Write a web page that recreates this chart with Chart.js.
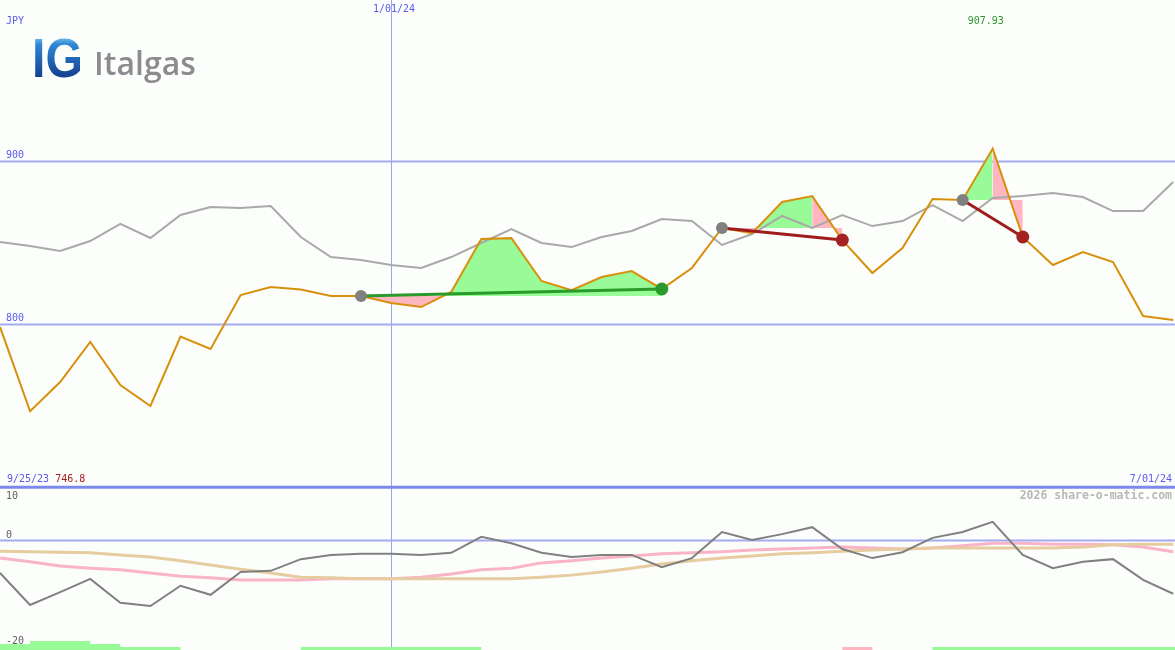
<!DOCTYPE html>
<html><head><meta charset="utf-8">
<script src="https://cdn.jsdelivr.net/npm/chart.js@4.4.1/dist/chart.umd.min.js"></script>
<style>html,body{margin:0;padding:0;background:#fcfefc;overflow:hidden}canvas{display:block}</style>
</head><body>
<canvas id="c" width="1175" height="650"></canvas>
<script>
// ---- data (weekly, 10/02/23 .. 7/01/24) ----
const weekLabels = (() => { const out = []; const d = new Date(2023, 9, 2);
  for (let i = 0; i < 40; i++) { const t = new Date(d.getTime() + i * 7 * 86400000);
    out.push((t.getMonth() + 1) + '/' + String(t.getDate()).padStart(2, '0') + '/' + String(t.getFullYear()).slice(2)); }
  return out; })();
const price = [798.5, 746.8, 764.7, 789.3, 762.9, 750.0, 792.6, 785.0, 818.1, 823.0,
  821.5, 817.5, 817.5, 813.2, 810.7, 820.0, 852.5, 853.0, 826.7, 821.0,
  829.1, 832.8, 821.8, 834.7, 859.2, 856.1, 875.2, 878.8, 851.8, 831.6,
  846.9, 877.0, 876.4, 907.93, 853.7, 836.5, 844.5, 838.3, 805.2, 802.8];
const relative = [850.6, 848.2, 845.1, 851.2, 861.7, 853.1, 867.2, 872.1, 871.5, 872.7,
  853.7, 841.4, 839.6, 836.5, 834.7, 841.4, 850.0, 858.6, 850.0, 847.5,
  853.7, 857.4, 864.7, 863.5, 848.8, 855.5, 866.6, 859.2, 867.2, 860.4,
  863.5, 873.3, 863.5, 877.6, 878.8, 880.7, 878.2, 869.6, 869.6, 887.4];
const momentum = [-6.1, -12.1, -9.7, -7.2, -11.7, -12.3, -8.5, -10.2, -5.9, -5.7,
  -3.5, -2.7, -2.5, -2.5, -2.7, -2.3, 0.7, -0.5, -2.3, -3.1,
  -2.7, -2.7, -5.0, -3.3, 1.6, 0.1, 1.2, 2.5, -1.6, -3.3,
  -2.2, 0.5, 1.6, 3.5, -2.7, -5.2, -4.0, -3.5, -7.4, -10.0];
const avgFast = [-3.3, -4.0, -4.8, -5.2, -5.5, -6.1, -6.7, -7.0, -7.4, -7.4,
  -7.4, -7.2, -7.2, -7.2, -6.9, -6.3, -5.5, -5.2, -4.2, -3.8,
  -3.3, -2.9, -2.5, -2.3, -2.1, -1.8, -1.6, -1.4, -1.2, -1.4,
  -1.6, -1.4, -1.0, -0.5, -0.5, -0.7, -0.7, -0.8, -1.2, -2.1];
const avgSlow = [-2.0, -2.1, -2.2, -2.3, -2.7, -3.1, -3.8, -4.6, -5.4, -6.1,
  -6.9, -7.0, -7.2, -7.2, -7.2, -7.2, -7.2, -7.2, -6.9, -6.5,
  -5.9, -5.2, -4.4, -3.8, -3.3, -2.9, -2.5, -2.3, -2.0, -1.8,
  -1.6, -1.4, -1.4, -1.4, -1.4, -1.4, -1.2, -0.8, -0.7, -0.7];
const signalUp = [2, 3, 3, 2, 1, 1, 0, 0, 0, 0, 1, 1, 1, 1, 1, 1, 0, 0, 0, 0,
  0, 0, 0, 0, 0, 0, 0, 0, 0, 0, 0, 1, 1, 1, 1, 1, 1, 1, 1, 1];
const signalDown = [0, 0, 0, 0, 0, 0, 0, 0, 0, 0, 0, 0, 0, 0, 0, 0, 0, 0, 0, 0,
  0, 0, 0, 0, 0, 0, 0, 0, 1, 0, 0, 0, 0, 0, 0, 0, 0, 0, 0, 0];
const trends = [{from: 12, to: 22, kind: 'up'}, {from: 24, to: 28, kind: 'down'}, {from: 32, to: 34, kind: 'down'}];
const priceTicks = [900, 800];
const lowerTicks = [10, 0, -20];
const startLabel = '9/25/23', endLabel = '7/01/24', midLabel = '1/01/24';
const currency = 'JPY';

// ---- build datasets ----
const xMax = 39.06;
const GREEN_FILL = '#98fb98', PINK_FILL = '#ffb6c1';
const pts = (arr, a = 0, b = arr.length - 1) => { const o = []; for (let i = a; i <= b; i++) o.push({x: i, y: arr[i]}); return o; };
const datasets = [];
trends.forEach(t => {
  const base = price[t.from];
  let peak = t.to;
  if (t.kind === 'down') { peak = t.from; for (let i = t.from; i <= t.to; i++) if (price[i] > price[peak]) peak = i; }
  datasets.push({data: pts(price, t.from, peak), yAxisID: 'y', borderWidth: 0, pointRadius: 0, order: 20,
    fill: {target: {value: base}, above: GREEN_FILL, below: PINK_FILL}});
  if (peak < t.to) datasets.push({data: pts(price, peak, t.to), yAxisID: 'y', borderWidth: 0, pointRadius: 0, order: 20,
    fill: {target: {value: base}, above: PINK_FILL, below: PINK_FILL}});
});
const stepPts = arr => { const o = pts(arr); o.push({x: xMax, y: arr[arr.length - 1]}); return o; };
datasets.push({data: stepPts(signalUp), yAxisID: 'yBar', stepped: 'before', borderWidth: 0, pointRadius: 0, fill: 'origin', backgroundColor: GREEN_FILL, order: 20});
datasets.push({data: stepPts(signalDown), yAxisID: 'yBar', stepped: 'before', borderWidth: 0, pointRadius: 0, fill: 'origin', backgroundColor: PINK_FILL, order: 20});
datasets.push({data: pts(relative), yAxisID: 'y', borderColor: '#a9a9a9', borderWidth: 2, pointRadius: 0, order: 10});
datasets.push({data: pts(avgSlow), yAxisID: 'y2', borderColor: '#e6cc9e', borderWidth: 3, pointRadius: 0, order: 10});
datasets.push({data: pts(avgFast), yAxisID: 'y2', borderColor: '#f9b4c8', borderWidth: 3, pointRadius: 0, order: 10});
datasets.push({data: pts(momentum), yAxisID: 'y2', borderColor: '#808080', borderWidth: 2, pointRadius: 0, order: 9});
datasets.push({data: pts(price), yAxisID: 'y', borderColor: '#d8900c', borderWidth: 2, pointRadius: 0, order: 8});
trends.forEach(t => {
  const col = t.kind === 'up' ? '#2a9a2a' : '#a01c1c';
  datasets.push({data: [{x: t.from, y: price[t.from]}, {x: t.to, y: price[t.to]}], yAxisID: 'y', borderColor: col, borderWidth: 3,
    pointRadius: [6, 6.5], pointBackgroundColor: ['#808080', t.kind === 'up' ? '#2a9a2a' : '#a52222'], pointBorderWidth: 0, order: 5});
});

const fmt = v => String(v);
const guides = {
  id: 'guides',
  beforeDraw(chart) { const c = chart.ctx; c.save(); c.fillStyle = '#fcfefc'; c.fillRect(0, 0, chart.width, chart.height); c.restore(); },
  beforeDatasetsDraw(chart) {
    const {ctx: c, scales: {x, y, y2}} = chart; const W = chart.width;
    c.save();
    c.strokeStyle = '#a3abf2'; c.lineWidth = 2;
    priceTicks.forEach(v => { const p = y.getPixelForValue(v); c.beginPath(); c.moveTo(0, p); c.lineTo(W, p); c.stroke(); });
    const z = y2.getPixelForValue(0); c.beginPath(); c.moveTo(0, z); c.lineTo(W, z); c.stroke();
    c.lineWidth = 1; c.strokeStyle = '#9aa4f2'; const vx = Math.round(x.getPixelForValue(weekLabels.indexOf(midLabel))) + 0.5;
    c.beginPath(); c.moveTo(vx, 0); c.lineTo(vx, chart.height); c.stroke();
    c.strokeStyle = '#7b88ec'; c.lineWidth = 3; const s = y2.getPixelForValue(lowerTicks[0]);
    c.beginPath(); c.moveTo(0, s); c.lineTo(W, s); c.stroke();
    c.restore();
  },
  afterDraw(chart) {
    const {ctx: c, scales: {x, y, y2}} = chart; const W = chart.width;
    c.save();
    c.textBaseline = 'middle';
    const mono = '10px "DejaVu Sans Mono"';
    c.font = mono; c.fillStyle = '#5a5aee';
    c.textAlign = 'left';
    c.fillText(currency, 6, 21);
    priceTicks.forEach(v => c.fillText(fmt(v), 6, y.getPixelForValue(v) - 6));
    c.textAlign = 'center';
    c.fillText(midLabel, x.getPixelForValue(weekLabels.indexOf(midLabel)) + 3, 9);
    const sy = y2.getPixelForValue(lowerTicks[0]) - 8;
    c.textAlign = 'left'; c.fillText(startLabel, 7, sy);
    const w0 = c.measureText(startLabel + ' ').width;
    const minI = price.indexOf(Math.min(...price)), maxI = price.indexOf(Math.max(...price));
    c.fillStyle = '#a31c1c'; c.fillText(String(price[minI]), 7 + w0, sy);
    c.fillStyle = '#5a5aee'; c.textAlign = 'right'; c.fillText(endLabel, W - 3, sy);
    c.fillStyle = '#2b992b'; c.textAlign = 'center'; c.fillText(price[maxI].toFixed(2), x.getPixelForValue(maxI) - 7, 21);
    // lower panel labels
    c.fillStyle = '#606060'; c.textAlign = 'left';
    c.fillText(String(lowerTicks[0]), 6, y2.getPixelForValue(lowerTicks[0]) + 9);
    c.fillText(String(lowerTicks[1]), 6, y2.getPixelForValue(lowerTicks[1]) - 5);
    c.fillText(String(lowerTicks[2]), 6, y2.getPixelForValue(lowerTicks[2]) - 6);
    c.font = 'bold 11.5px "DejaVu Sans Mono"'; c.fillStyle = '#b8b8b8'; c.textAlign = 'right';
    c.fillText('2026 share-o-matic.com', W - 3, y2.getPixelForValue(lowerTicks[0]) + 9);
    // logo
    c.textBaseline = 'alphabetic'; c.textAlign = 'left';
    c.save(); c.translate(32, 77); c.scale(0.86, 1);
    const g = c.createLinearGradient(0, -42, 0, 0);
    g.addColorStop(0, '#8fd2f2'); g.addColorStop(0.22, '#2f88d4'); g.addColorStop(1, '#15408f');
    c.fillStyle = g; c.font = 'bold 56px "Liberation Sans"';
    c.fillText('IG', 0, 0); c.restore();
    c.fillStyle = '#8c8c90'; c.font = '600 32px "Open Sans"';
    c.fillText('Italgas', 94, 75);
    c.restore();
  }
};

new Chart(document.getElementById('c'), {
  type: 'line',
  data: {datasets},
  options: {
    responsive: false, animation: false, devicePixelRatio: 1,
    layout: {padding: 0, autoPadding: false},
    plugins: {legend: {display: false}, tooltip: {enabled: false}},
    elements: {line: {tension: 0}, point: {radius: 0}},
    scales: {
      x: {type: 'linear', min: 0, max: xMax, display: false},
      y: {min: 600.3, max: 999.1, display: false},
      y2: {min: -20.56, max: 101.5, display: false},
      yBar: {min: 0, max: 650 / 3, display: false}
    }
  },
  plugins: [guides]
});
</script>
</body></html>
